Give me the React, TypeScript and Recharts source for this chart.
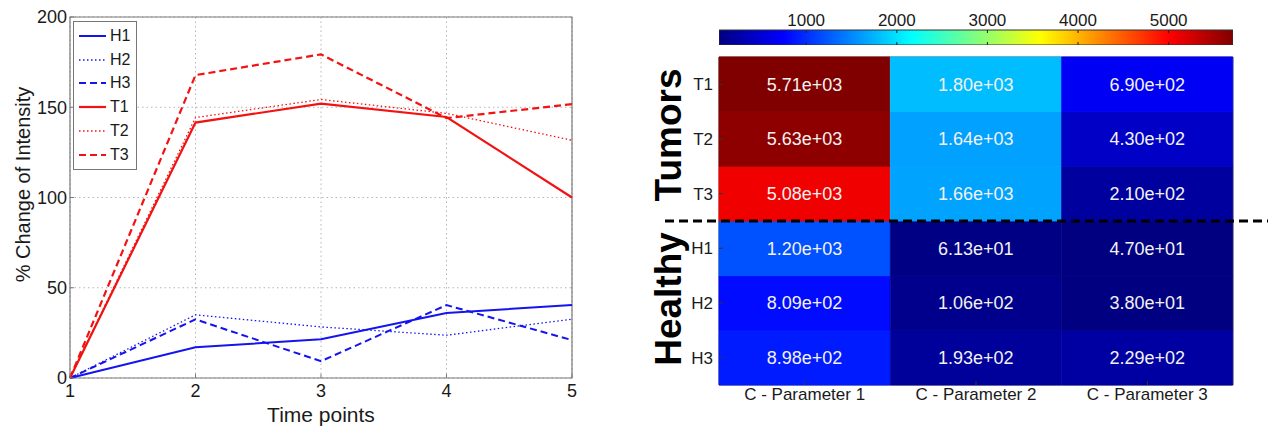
import React from 'react';
import {
  LineChart,
  Line,
  XAxis,
  YAxis,
  CartesianGrid,
  ReferenceArea,
  ReferenceLine,
  BarChart,
  Bar,
  Cell,
  LabelList,
  ComposedChart,
} from 'recharts';

// ─── Data: line chart ───────────────────────────────────────────────────────
const timePoints = [1, 2, 3, 4, 5];
const h1 = [0, 17, 21.5, 36, 40.5];
const h2 = [0, 35, 28.3, 23.7, 32.6];
const h3 = [0, 32.5, 9.3, 40.4, 21];
const t1 = [0, 141.5, 152, 144.6, 100];
const t2 = [0, 144.3, 154.3, 146.6, 131.7];
const t3 = [0, 167.8, 179.3, 144, 151.7];
const yTicks = [0, 50, 100, 150, 200];
const seriesNames = ['H1', 'H2', 'H3', 'T1', 'T2', 'T3'];

// ─── Data: heatmap ──────────────────────────────────────────────────────────
const rowLabels = ['T1', 'T2', 'T3', 'H1', 'H2', 'H3'];
const paramLabels = ['C - Parameter 1', 'C - Parameter 2', 'C - Parameter 3'];
const param1 = [5710, 5630, 5080, 1200, 809, 898];
const param2 = [1800, 1640, 1660, 61.3, 106, 193];
const param3 = [690, 430, 210, 47, 38, 229];
const colorRange = [38, 5710];
const colorbarTicks = [1000, 2000, 3000, 4000, 5000];
const groupLabels = ['Tumors', 'Healthy'];

// ─── Styles ─────────────────────────────────────────────────────────────────
const FONT = '"Liberation Sans", Arial, Helvetica, sans-serif';
const BLUE = '#1414f0';
const RED = '#f21212';
const TEXT = '#1a1a1a';
const FRAME = '#7a7a7a';

const LINE_STYLE: Record<string, { stroke: string; dash?: string; width: number }> = {
  H1: { stroke: BLUE, width: 2 },
  H2: { stroke: BLUE, dash: '1.5 2.5', width: 1.3 },
  H3: { stroke: BLUE, dash: '7 4', width: 2 },
  T1: { stroke: RED, width: 2.2 },
  T2: { stroke: RED, dash: '1.5 2.5', width: 1.3 },
  T3: { stroke: RED, dash: '7 4', width: 2.2 },
};

const seriesValues = [h1, h2, h3, t1, t2, t3];
const lineData = timePoints.map((t, i) => {
  const row: Record<string, number> = { t };
  seriesNames.forEach((s, k) => {
    row[s] = seriesValues[k][i];
  });
  return row;
});

const paramValues = [param1, param2, param3];
const heatData = paramLabels.map((p, j) => {
  const row: Record<string, string | number> = { param: p };
  rowLabels.forEach((r, i) => {
    row[r] = 1;
    row[`${r}_v`] = paramValues[j][i];
  });
  return row;
});

// MATLAB "jet" colormap
function jet(x: number) {
  const c = (v: number) => Math.round(255 * Math.max(0, Math.min(1, v)));
  const r = c(Math.min(4 * x - 1.5, -4 * x + 4.5));
  const g = c(Math.min(4 * x - 0.5, -4 * x + 3.5));
  const b = c(Math.min(4 * x + 0.5, -4 * x + 2.5));
  return `rgb(${r},${g},${b})`;
}
const norm = (v: number) => (v - colorRange[0]) / (colorRange[1] - colorRange[0]);

function fmt(v: any) {
  const s = Number(v).toExponential(2);
  return s.replace(/e([+-])(\d+)$/, (_m, sign, d) => `e${sign}${d.padStart(2, '0')}`);
}

function LegendBox() {
  return (
    <div
      style={{
        position: 'absolute',
        left: 73,
        top: 21,
        border: '1px solid #777',
        background: '#fff',
        padding: '2px 6px 2px 4px',
        fontFamily: FONT,
        fontSize: 16,
        color: TEXT,
      }}
    >
      {seriesNames.map((s) => (
        <div key={s} style={{ display: 'flex', alignItems: 'center', height: 23.8 }}>
          <svg width={29} height={10} style={{ marginRight: 3 }}>
            <line
              x1={1}
              x2={28}
              y1={5}
              y2={5}
              stroke={LINE_STYLE[s].stroke}
              strokeWidth={LINE_STYLE[s].width}
              strokeDasharray={LINE_STYLE[s].dash}
            />
          </svg>
          <span>{s}</span>
        </div>
      ))}
    </div>
  );
}

function LeftChart() {
  return (
    <LineChart
      width={600}
      height={428}
      data={lineData}
      margin={{ top: 17, right: 28, bottom: 0, left: 0 }}
    >
      <CartesianGrid stroke="#b5b5b5" strokeDasharray="1.5 3" />
      <XAxis
        dataKey="t"
        type="number"
        domain={[1, 5]}
        ticks={timePoints}
        height={50}
        axisLine={false}
        tickLine={{ stroke: FRAME }}
        tickSize={-4}
        tickMargin={10}
        tick={{ fill: TEXT, fontSize: 18, fontFamily: FONT }}
        label={{
          value: 'Time points',
          position: 'insideBottom',
          offset: 6,
          style: { fill: TEXT, fontSize: 21, fontFamily: FONT },
        }}
      />
      <XAxis
        xAxisId="top"
        dataKey="t"
        type="number"
        orientation="top"
        domain={[1, 5]}
        ticks={timePoints}
        height={0}
        axisLine={false}
        tickLine={{ stroke: FRAME }}
        tickSize={-4}
        tick={false}
      />
      <YAxis
        type="number"
        domain={[0, 200]}
        ticks={yTicks}
        width={70}
        axisLine={false}
        tickLine={{ stroke: FRAME }}
        tickSize={-4}
        tickMargin={7}
        tick={{ fill: TEXT, fontSize: 18, fontFamily: FONT }}
        label={{
          content: (props: any) => {
            const vb = props.viewBox;
            const cx = 23;
            const cy = vb.y + vb.height / 2 - 13;
            return (
              <text
                x={cx}
                y={cy}
                transform={`rotate(-90, ${cx}, ${cy})`}
                textAnchor="middle"
                dominantBaseline="central"
                fontSize={20}
                fontFamily={FONT}
                fill={TEXT}
              >
                % Change of Intensity
              </text>
            );
          },
        }}
      />
      <YAxis
        yAxisId="right"
        type="number"
        orientation="right"
        domain={[0, 200]}
        ticks={yTicks}
        width={0}
        axisLine={false}
        tickLine={{ stroke: FRAME }}
        tickSize={-4}
        tick={false}
      />
      <ReferenceArea x1={1} x2={5} y1={0} y2={200} fill="none" stroke={FRAME} strokeWidth={1.2} />
      {seriesNames.map((s) => (
        <Line
          key={s}
          dataKey={s}
          type="linear"
          dot={false}
          stroke={LINE_STYLE[s].stroke}
          strokeWidth={LINE_STYLE[s].width}
          strokeDasharray={LINE_STYLE[s].dash}
          isAnimationActive={false}
        />
      ))}
    </LineChart>
  );
}

function ColorBar() {
  const data = [{ name: 'scale', range: colorRange }];
  return (
    <ComposedChart
      width={632}
      height={45}
      data={data}
      layout="vertical"
      barCategoryGap={0}
      margin={{ top: 0, right: 39, bottom: 0, left: 79 }}
    >
      <defs>
        <linearGradient id="jetGrad" x1="0" x2="1" y1="0" y2="0">
          <stop offset="0" stopColor="#000080" />
          <stop offset="0.125" stopColor="#0000ff" />
          <stop offset="0.375" stopColor="#00ffff" />
          <stop offset="0.625" stopColor="#ffff00" />
          <stop offset="0.875" stopColor="#ff0000" />
          <stop offset="1" stopColor="#800000" />
        </linearGradient>
      </defs>
      <XAxis
        type="number"
        orientation="top"
        domain={colorRange}
        ticks={colorbarTicks}
        allowDataOverflow
        height={30}
        axisLine={false}
        tickLine={false}
        tickSize={0}
        tickMargin={4}
        tick={{ fill: TEXT, fontSize: 17, fontFamily: FONT }}
      />
      <YAxis type="category" dataKey="name" hide />
      <Bar dataKey="range" fill="url(#jetGrad)" stroke="#333" strokeWidth={1} isAnimationActive={false} />
      {colorbarTicks.map((t) => (
        <ReferenceLine key={t} x={t} stroke="#222" strokeWidth={1} strokeDasharray="3 9" />
      ))}
    </ComposedChart>
  );
}

function HeatMap() {
  const groupCenters = [4.5, 1.5];
  return (
    <BarChart
      width={632}
      height={428}
      data={heatData}
      barCategoryGap={0}
      barGap={0}
      margin={{ top: 57, right: 39, bottom: 0, left: 0 }}
    >
      <XAxis
        dataKey="param"
        height={43}
        axisLine={false}
        tickLine={{ stroke: '#333' }}
        tickSize={-4}
        tickMargin={7}
        tick={{ fill: TEXT, fontSize: 17, fontFamily: FONT }}
      />
      <YAxis
        type="number"
        domain={[0, 6]}
        ticks={[0.5, 1.5, 2.5, 3.5, 4.5, 5.5]}
        tickFormatter={(v: number) => rowLabels[5 - Math.floor(v)]}
        width={79}
        axisLine={false}
        tickLine={{ stroke: '#333' }}
        tickSize={-4}
        tickMargin={10}
        tick={{ fill: TEXT, fontSize: 17, fontFamily: FONT }}
      />
      {[...rowLabels].reverse().map((r) => (
        <Bar key={r} dataKey={r} stackId="heat" isAnimationActive={false}>
          {heatData.map((d, j) => {
            const col = jet(norm(Number(d[`${r}_v`])));
            return <Cell key={j} fill={col} stroke={col} strokeWidth={0.8} />;
          })}
          <LabelList
            dataKey={`${r}_v`}
            position="center"
            formatter={fmt}
            fill="#f2f2f2"
            fontSize={18}
            fontFamily={FONT}
          />
        </Bar>
      ))}
      <ReferenceArea y1={0} y2={6} fill="none" stroke="#555" strokeWidth={1} />
      {groupLabels.map((g, k) => (
        <ReferenceArea
          key={g}
          y1={groupCenters[k] - 1.5}
          y2={groupCenters[k] + 1.5}
          fill="none"
          strokeOpacity={0}
          label={{
            content: (props: any) => {
              const vb = props.viewBox;
              const cx = vb.x - 51;
              const cy = vb.y + vb.height / 2 - 4;
              return (
                <text
                  x={cx}
                  y={cy}
                  transform={`rotate(-90, ${cx}, ${cy})`}
                  textAnchor="middle"
                  dominantBaseline="central"
                  fontSize={37}
                  fontWeight="bold"
                  fontFamily={FONT}
                  fill="#000"
                >
                  {g}
                </text>
              );
            },
          }}
        />
      ))}
      <ReferenceLine
        y={3}
        stroke="#000"
        strokeWidth={3}
        strokeDasharray="9 5"
        shape={(p: any) => (
          <line
            x1={p.x1 - 54}
            x2={p.x2 + 35}
            y1={p.y1}
            y2={p.y2}
            stroke="#000"
            strokeWidth={3}
            strokeDasharray="9 5"
          />
        )}
      />
    </BarChart>
  );
}

export default function App() {
  return (
    <div
      style={{
        position: 'absolute',
        left: 0,
        top: 0,
        width: 1272,
        height: 428,
        background: '#fff',
        overflow: 'hidden',
      }}
    >
      <div style={{ position: 'absolute', left: 0, top: 0 }}>
        <LeftChart />
      </div>
      <LegendBox />
      <div style={{ position: 'absolute', left: 640, top: 0 }}>
        <HeatMap />
      </div>
      <div style={{ position: 'absolute', left: 640, top: 0 }}>
        <ColorBar />
      </div>
    </div>
  );
}
